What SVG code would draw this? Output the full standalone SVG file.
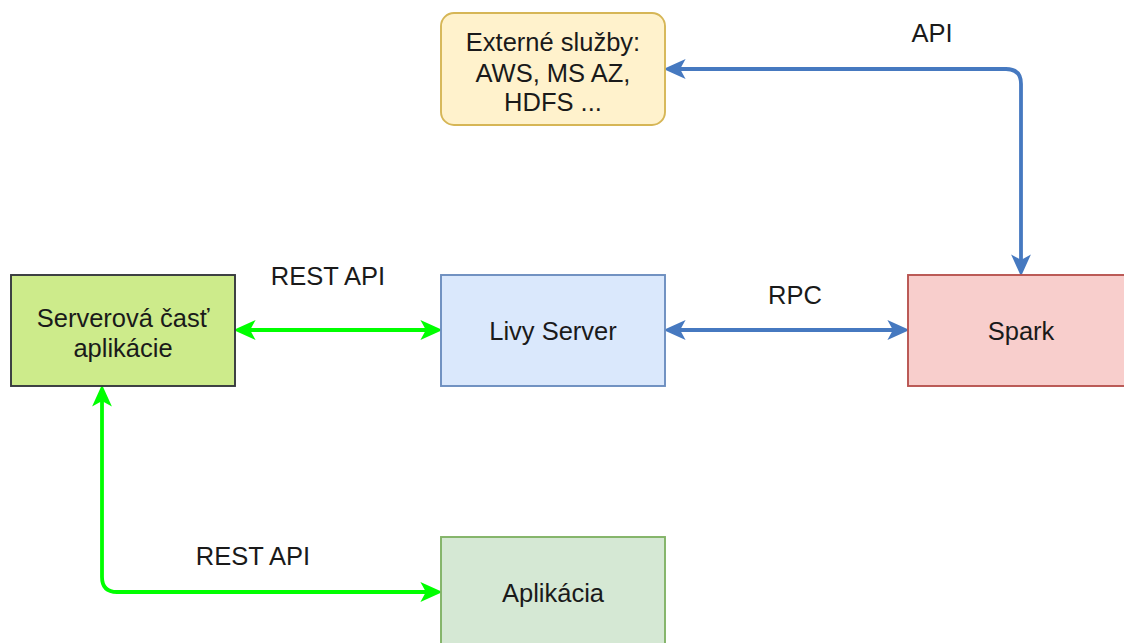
<svg xmlns="http://www.w3.org/2000/svg" width="1124" height="643" viewBox="0 0 1124 643">
<style>
text{font-family:"Liberation Sans",Arial,sans-serif;font-size:25.5px;fill:#1a1a1a;text-anchor:middle}
.box{stroke-width:1.9}
.c{fill:none;stroke-width:3.8}
.g{stroke:#00ff00}
.b{stroke:#4679c0}
</style>
<defs>
<marker id="ag" markerUnits="userSpaceOnUse" markerWidth="22" markerHeight="22" viewBox="0 0 20 20" refX="6" refY="10" orient="auto-start-reverse"><path d="M20,10 L0,1 L5,10 L0,19 Z" fill="#00ff00"/></marker>
<marker id="ab" markerUnits="userSpaceOnUse" markerWidth="22" markerHeight="22" viewBox="0 0 20 20" refX="6" refY="10" orient="auto-start-reverse"><path d="M20,10 L0,1 L5,10 L0,19 Z" fill="#4679c0"/></marker>
</defs>
<rect width="1124" height="643" fill="#ffffff"/>
<g id="connectors">
<path class="c b" d="M679,69 L1006,69 Q1021,69 1021,84 L1021,261" marker-start="url(#ab)" marker-end="url(#ab)"/>
<path class="c b" d="M679,330 L894,330" marker-start="url(#ab)" marker-end="url(#ab)"/>
<path class="c g" d="M249,330 L427,330" marker-start="url(#ag)" marker-end="url(#ag)"/>
<path class="c g" d="M102,400 L102,577 Q102,592 117,592 L427,592" marker-start="url(#ag)" marker-end="url(#ag)"/>
<text x="932" y="42">API</text>
<text x="328" y="285">REST API</text>
<text x="795" y="304">RPC</text>
<text x="253" y="565">REST API</text>
</g>
<g id="externe">
<rect class="box" x="441" y="13" width="224" height="112" rx="13" fill="#fff2cc" stroke="#d6b656"/>
<text x="553" y="51">Externé služby:</text>
<text x="553" y="82">AWS, MS AZ,</text>
<text x="553" y="111">HDFS ...</text>
</g>
<g id="serverova">
<rect class="box" x="11" y="275" width="224" height="111" fill="#cdeb8b" stroke="#36393d"/>
<text x="123" y="327">Serverová časť</text>
<text x="123" y="357">aplikácie</text>
</g>
<g id="livy">
<rect class="box" x="441" y="275" width="224" height="111" fill="#dae8fc" stroke="#6c8ebf"/>
<text x="553" y="340">Livy Server</text>
</g>
<g id="spark">
<rect class="box" x="908" y="275" width="224" height="111" fill="#f8cecc" stroke="#b85450"/>
<text x="1021" y="340">Spark</text>
</g>
<g id="aplikacia">
<rect class="box" x="441" y="537" width="224" height="112" fill="#d5e8d4" stroke="#82b366"/>
<text x="553" y="602">Aplikácia</text>
</g>
</svg>
